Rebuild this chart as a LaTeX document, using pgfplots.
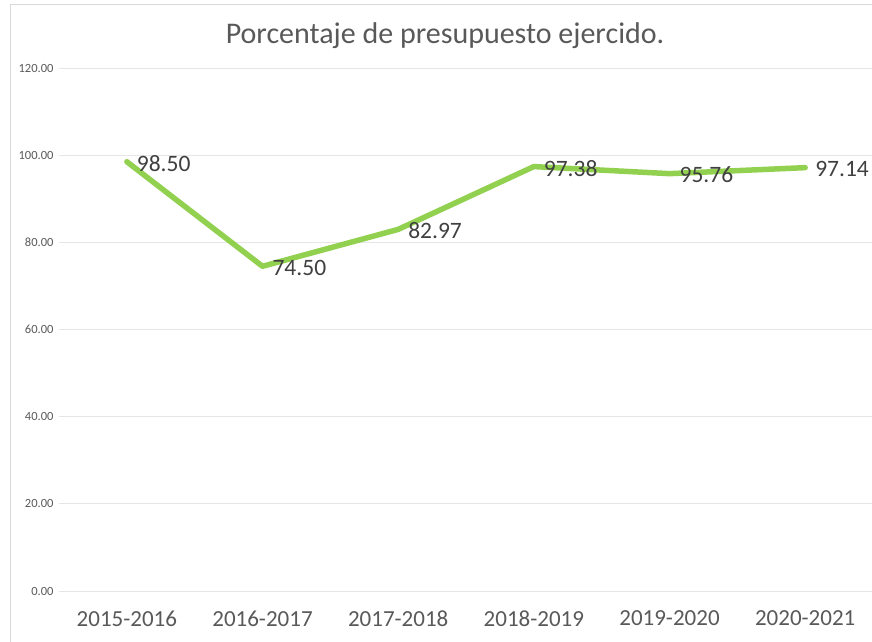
\documentclass[border=0pt]{standalone}
\usepackage{pgfplots}
\pgfplotsset{compat=1.18}
\usepackage{fontspec}
\setmainfont{Carlito}
\definecolor{linegreen}{HTML}{92D050}
\definecolor{txtgray}{HTML}{595959}
\definecolor{lblgray}{HTML}{404040}
\definecolor{gridgray}{HTML}{E6E6E6}
\definecolor{bordergray}{HTML}{D9D9D9}
\begin{document}
\begin{tikzpicture}[x=1pt,y=1pt]
\useasboundingbox (0,0) rectangle (872,641);
\draw[color=bordergray, line width=1pt] (10,-50) -- (10,636) -- (950,636);
\node[font=\fontsize{30}{34}\selectfont, color=txtgray] at (445,605) {Porcentaje de presupuesto ejercido.};
\begin{axis}[
  at={(59pt,50pt)}, anchor=south west,
  scale only axis, width=814pt, height=523pt,
  xmin=-0.5, xmax=5.5, ymin=0, ymax=120,
  ytick={0,20,...,120},
  xtick={0,...,5},
  xticklabels={2015-2016,2016-2017,2017-2018,2018-2019,2019-2020,2020-2021},
  axis line style={draw=none},
  major tick length=0pt,
  ymajorgrids,
  grid style={color=gridgray, line width=0.8pt},
  yticklabel style={font=\fontsize{12.5}{14}\selectfont, color=txtgray, xshift=-2pt},
  xticklabel style={font=\fontsize{23}{27}\selectfont, color=txtgray, yshift=-16pt},
  /pgf/number format/.cd, fixed, fixed zerofill, precision=2, assume math mode=true,
]
\addplot[color=linegreen, line width=5.5pt, line join=round, line cap=round,
  nodes near coords,
  every node near coord/.append style={anchor=west, font=\fontsize{23.5}{27}\selectfont, color=lblgray, xshift=4pt, yshift=-1.5pt}]
  coordinates {(0,98.50) (1,74.50) (2,82.97) (3,97.38) (4,95.76) (5,97.14)};
\end{axis}
\end{tikzpicture}
\end{document}
